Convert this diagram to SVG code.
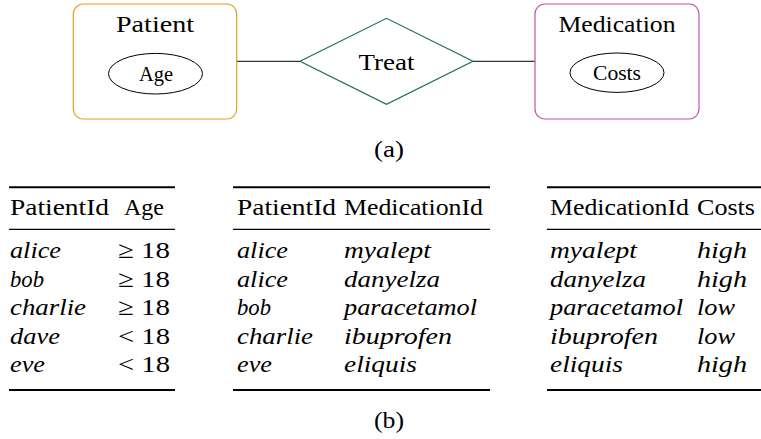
<svg xmlns="http://www.w3.org/2000/svg" width="761" height="439" viewBox="0 0 761 439" font-family="'Liberation Serif','Times New Roman',serif">
<style>
text{font-family:'Liberation Serif','Times New Roman',serif;fill:#000}
.t{font-size:24px}
.s{font-size:20px}
.i{font-size:24px;font-style:italic}
.c{text-anchor:middle}
.ent{fill:none;stroke-width:1.2}
.attr{fill:none;stroke:#000;stroke-width:1}
.conn{stroke:#000;stroke-width:1;fill:none}
.heavy{stroke:#000;stroke-width:1.9}
.light{stroke:#000;stroke-width:1.2}
</style>
<rect width="761" height="439" fill="#fff"/>
<g id="connectors">
<line class="conn" x1="237" y1="61.3" x2="300" y2="61.3"/>
<line class="conn" x1="473" y1="61.3" x2="535" y2="61.3"/>
</g>
<g id="patient">
<rect class="ent" x="73.3" y="4" width="163.4" height="115" rx="10" stroke="#E6A020"/>
<text class="t c" x="155" y="32" textLength="78" lengthAdjust="spacingAndGlyphs">Patient</text>
</g>
<g id="age">
<ellipse class="attr" cx="155.5" cy="73.7" rx="47" ry="20.3"/>
<text class="s c" x="156" y="80.5" textLength="34" lengthAdjust="spacingAndGlyphs">Age</text>
</g>
<g id="treat">
<polygon points="300,61.3 386.5,18.3 473,61.3 386.5,104.3" fill="none" stroke="#1B6B5C" stroke-width="1.2"/>
<text class="t c" x="386.5" y="70" textLength="56" lengthAdjust="spacingAndGlyphs">Treat</text>
</g>
<g id="medication">
<rect class="ent" x="535" y="4" width="164" height="115" rx="10" stroke="#BB55AA"/>
<text class="t c" x="617" y="32" textLength="117" lengthAdjust="spacingAndGlyphs">Medication</text>
</g>
<g id="costs">
<ellipse class="attr" cx="617" cy="72.7" rx="47" ry="19.7"/>
<text class="s c" x="617" y="80" textLength="48" lengthAdjust="spacingAndGlyphs">Costs</text>
</g>
<text class="t c" x="389" y="157" textLength="30" lengthAdjust="spacingAndGlyphs">(a)</text>
<g id="table1">
<line class="heavy" x1="9" y1="187.3" x2="175" y2="187.3"/>
<text class="t" x="10" y="215" textLength="99" lengthAdjust="spacingAndGlyphs">PatientId</text>
<text class="t c" x="144" y="215" textLength="40" lengthAdjust="spacingAndGlyphs">Age</text>
<line class="light" x1="9" y1="229.3" x2="175" y2="229.3"/>
<text class="i" x="10" y="258" textLength="51" lengthAdjust="spacingAndGlyphs">alice</text>
<text class="i" x="10" y="286.6" textLength="34" lengthAdjust="spacingAndGlyphs">bob</text>
<text class="i" x="10" y="315.2" textLength="76" lengthAdjust="spacingAndGlyphs">charlie</text>
<text class="i" x="10" y="343.8" textLength="50" lengthAdjust="spacingAndGlyphs">dave</text>
<text class="i" x="10" y="372.4" textLength="35" lengthAdjust="spacingAndGlyphs">eve</text>
<text class="t" x="118" y="258" textLength="52" lengthAdjust="spacingAndGlyphs">≥ 18</text>
<text class="t" x="118" y="286.6" textLength="52" lengthAdjust="spacingAndGlyphs">≥ 18</text>
<text class="t" x="118" y="315.2" textLength="52" lengthAdjust="spacingAndGlyphs">≥ 18</text>
<text class="t" x="118" y="343.8" textLength="52" lengthAdjust="spacingAndGlyphs">&lt; 18</text>
<text class="t" x="118" y="372.4" textLength="52" lengthAdjust="spacingAndGlyphs">&lt; 18</text>
<line class="heavy" x1="9" y1="390" x2="175" y2="390"/>
</g>
<g id="table2">
<line class="heavy" x1="233" y1="187.3" x2="490" y2="187.3"/>
<text class="t" x="237" y="215" textLength="99" lengthAdjust="spacingAndGlyphs">PatientId</text>
<text class="t" x="344" y="215" textLength="139" lengthAdjust="spacingAndGlyphs">MedicationId</text>
<line class="light" x1="233" y1="229.3" x2="490" y2="229.3"/>
<text class="i" x="237" y="258" textLength="51" lengthAdjust="spacingAndGlyphs">alice</text>
<text class="i" x="237" y="286.6" textLength="51" lengthAdjust="spacingAndGlyphs">alice</text>
<text class="i" x="237" y="315.2" textLength="34" lengthAdjust="spacingAndGlyphs">bob</text>
<text class="i" x="237" y="343.8" textLength="76" lengthAdjust="spacingAndGlyphs">charlie</text>
<text class="i" x="237" y="372.4" textLength="35" lengthAdjust="spacingAndGlyphs">eve</text>
<text class="i" x="344" y="258" textLength="87" lengthAdjust="spacingAndGlyphs">myalept</text>
<text class="i" x="344" y="286.6" textLength="96" lengthAdjust="spacingAndGlyphs">danyelza</text>
<text class="i" x="344" y="315.2" textLength="133" lengthAdjust="spacingAndGlyphs">paracetamol</text>
<text class="i" x="344" y="343.8" textLength="108" lengthAdjust="spacingAndGlyphs">ibuprofen</text>
<text class="i" x="344" y="372.4" textLength="73" lengthAdjust="spacingAndGlyphs">eliquis</text>
<line class="heavy" x1="233" y1="390" x2="490" y2="390"/>
</g>
<g id="table3">
<line class="heavy" x1="547" y1="187.3" x2="761" y2="187.3"/>
<text class="t" x="550" y="215" textLength="139" lengthAdjust="spacingAndGlyphs">MedicationId</text>
<text class="t" x="697" y="215" textLength="58" lengthAdjust="spacingAndGlyphs">Costs</text>
<line class="light" x1="547" y1="229.3" x2="761" y2="229.3"/>
<text class="i" x="550" y="258" textLength="87" lengthAdjust="spacingAndGlyphs">myalept</text>
<text class="i" x="550" y="286.6" textLength="96" lengthAdjust="spacingAndGlyphs">danyelza</text>
<text class="i" x="550" y="315.2" textLength="133" lengthAdjust="spacingAndGlyphs">paracetamol</text>
<text class="i" x="550" y="343.8" textLength="108" lengthAdjust="spacingAndGlyphs">ibuprofen</text>
<text class="i" x="550" y="372.4" textLength="73" lengthAdjust="spacingAndGlyphs">eliquis</text>
<text class="i" x="697" y="258" textLength="50" lengthAdjust="spacingAndGlyphs">high</text>
<text class="i" x="697" y="286.6" textLength="50" lengthAdjust="spacingAndGlyphs">high</text>
<text class="i" x="697" y="315.2" textLength="38" lengthAdjust="spacingAndGlyphs">low</text>
<text class="i" x="697" y="343.8" textLength="38" lengthAdjust="spacingAndGlyphs">low</text>
<text class="i" x="697" y="372.4" textLength="50" lengthAdjust="spacingAndGlyphs">high</text>
<line class="heavy" x1="547" y1="390" x2="761" y2="390"/>
</g>
<text class="t c" x="389" y="428" textLength="30" lengthAdjust="spacingAndGlyphs">(b)</text>
</svg>
